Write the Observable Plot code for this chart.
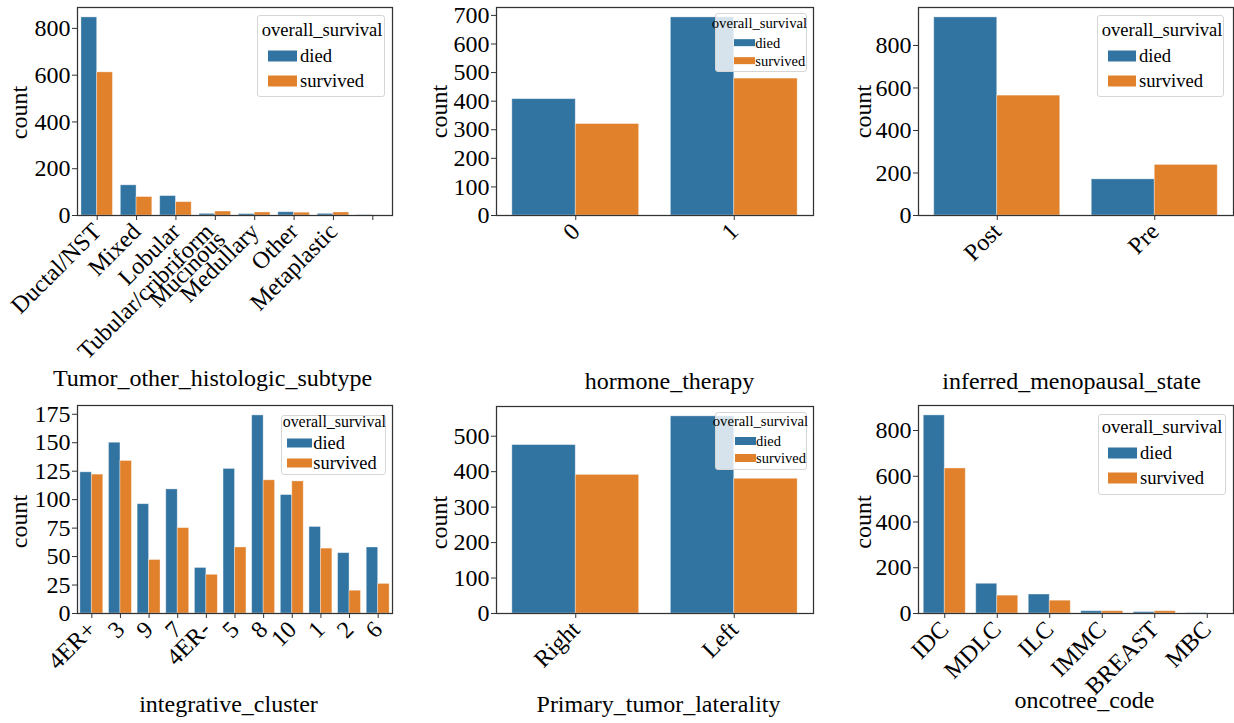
<!DOCTYPE html>
<html>
<head>
<meta charset="utf-8">
<script src="https://cdn.jsdelivr.net/npm/d3@7"></script>
<script src="https://cdn.jsdelivr.net/npm/@observablehq/plot@0.6"></script>
<style>
  html, body { margin: 0; padding: 0; background: #fff; }
  #fig { position: relative; width: 1234px; height: 723px; overflow: hidden;
         font-family: "Liberation Serif", "Times New Roman", serif; color: #000; }
  #fig svg { position: absolute; left: 0; top: 0; }
  .lg-box { position: absolute; box-sizing: border-box; background: rgba(255,255,255,0.8);
            border: 1px solid #d6d6d6; border-radius: 3px; }
  .lg-text { position: absolute; white-space: nowrap; line-height: 1; transform: translateY(-50%); }
  .lg-patch { position: absolute; transform: translateY(-50%); }
</style>
</head>
<body>
<div id="fig"></div>
<script>
// Survival groups (hue) shared by every panel
const statusKeys = ["died", "survived"];
const statusColors = ["#3274a1", "#e1812c"];

// Tumor_other_histologic_subtype
const subtypeCategories = ["Ductal/NST", "Mixed", "Lobular", "Tubular/cribriform", "Mucinous", "Medullary", "Other", "Metaplastic"];
const subtypeDied = [847, 129, 83, 7, 6, 14, 7, 1];
const subtypeSurvived = [612, 79, 57, 17, 13, 12, 13, 0];
const subtypeTicks = [0, 200, 400, 600, 800];

// hormone_therapy
const hormoneCategories = ["0", "1"];
const hormoneDied = [407, 693];
const hormoneSurvived = [320, 479];
const hormoneTicks = [0, 100, 200, 300, 400, 500, 600, 700];

// inferred_menopausal_state
const menopauseCategories = ["Post", "Pre"];
const menopauseDied = [932, 170];
const menopauseSurvived = [564, 238];
const menopauseTicks = [0, 200, 400, 600, 800];

// integrative_cluster
const clusterCategories = ["4ER+", "3", "9", "7", "4ER-", "5", "8", "10", "1", "2", "6"];
const clusterDied = [124, 150, 96, 109, 40, 127, 174, 104, 76, 53, 58];
const clusterSurvived = [122, 134, 47, 75, 34, 58, 117, 116, 57, 20, 26];
const clusterTicks = [0, 25, 50, 75, 100, 125, 150, 175];

// Primary_tumor_laterality
const lateralityCategories = ["Right", "Left"];
const lateralityDied = [475, 556];
const lateralitySurvived = [391, 380];
const lateralityTicks = [0, 100, 200, 300, 400, 500];

// oncotree_code
const oncotreeCategories = ["IDC", "MDLC", "ILC", "IMMC", "BREAST", "MBC"];
const oncotreeDied = [866, 130, 83, 10, 6, 1];
const oncotreeSurvived = [634, 78, 56, 10, 10, 0];
const oncotreeTicks = [0, 200, 400, 600, 800];

const W = 1234, H = 723;
const FONT = "'Liberation Serif', 'Times New Roman', serif";

// Panel layout: plot frame, tick-label placement, axis titles and legend (pixels)
const panels = [
  {categories: subtypeCategories, died: subtypeDied, survived: subtypeSurvived, yTicks: subtypeTicks,
   xTitle: "Tumor_other_histologic_subtype",
   labelSlots: [0, 1, 2, 2.85, 3.15, 4, 5, 6],
   labelDrops: [0, 0, 0, 0, 8, 0, 0, 0],
   frame: {left: 77, right: 392, top: 7, bottom: 215},
   xt: {cx: 212, base: 385}, yt: {cx: 19, cy: 112},
   legend: {box: [257.3, 15, 127.7, 81.7], title: {x: 261.7, cy: 30, size: 18.6},
            patch: {x: 268.3, w: 28.4, h: 11}, rows: [55.5, 80.5], textX: 300, textSize: 18.6}},
  {categories: hormoneCategories, died: hormoneDied, survived: hormoneSurvived, yTicks: hormoneTicks,
   xTitle: "hormone_therapy",
   frame: {left: 496, right: 813, top: 7, bottom: 215},
   xt: {cx: 669, base: 388}, yt: {cx: 438.5, cy: 111},
   legend: {box: [715, 13.3, 92.3, 58.4], title: {x: 711.7, cy: 22.7, size: 14.7},
            patch: {x: 734, w: 21, h: 7.7}, rows: [42.8, 60.8], textX: 755.3, textSize: 14.5}},
  {categories: menopauseCategories, died: menopauseDied, survived: menopauseSurvived, yTicks: menopauseTicks,
   xTitle: "inferred_menopausal_state",
   frame: {left: 918, right: 1233, top: 7, bottom: 215},
   xt: {cx: 1071, base: 388}, yt: {cx: 862.7, cy: 111},
   legend: {box: [1096.7, 15, 127.7, 81.7], title: {x: 1101.7, cy: 30, size: 18.6},
            patch: {x: 1107.5, w: 28.4, h: 11}, rows: [55.5, 80.5], textX: 1139, textSize: 18.6}},
  {categories: clusterCategories, died: clusterDied, survived: clusterSurvived, yTicks: clusterTicks,
   xTitle: "integrative_cluster",
   frame: {left: 77, right: 392, top: 405, bottom: 613},
   xt: {cx: 228, base: 711.5}, yt: {cx: 19, cy: 521},
   legend: {box: [281, 415, 105, 60], title: {x: 282.7, cy: 422.3, size: 15.9},
            patch: {x: 287.3, w: 24.4, h: 9}, rows: [442.8, 462.8], textX: 313.3, textSize: 18.4}},
  {categories: lateralityCategories, died: lateralityDied, survived: lateralitySurvived, yTicks: lateralityTicks,
   xTitle: "Primary_tumor_laterality",
   frame: {left: 496, right: 813, top: 406, bottom: 613},
   xt: {cx: 658, base: 711.5}, yt: {cx: 439, cy: 522},
   legend: {box: [715, 412.3, 92.3, 57.7], title: {x: 712.7, cy: 421, size: 14.7},
            patch: {x: 735, w: 21, h: 8}, rows: [440.5, 458.3], textX: 756, textSize: 14.5}},
  {categories: oncotreeCategories, died: oncotreeDied, survived: oncotreeSurvived, yTicks: oncotreeTicks,
   xTitle: "oncotree_code",
   frame: {left: 918, right: 1233, top: 405, bottom: 613},
   xt: {cx: 1084, base: 707}, yt: {cx: 863, cy: 521.5},
   legend: {box: [1098.3, 414, 127.7, 81], title: {x: 1101.7, cy: 426.7, size: 18.6},
            patch: {x: 1108.3, w: 28.4, h: 11}, rows: [452.8, 477.5], textX: 1140, textSize: 18.6}}
];

const fig = document.getElementById("fig");

function drawPanel(p) {
  const n = p.categories.length;
  const f = p.frame;
  // one row per (category, survival group); groups sit side by side, 0.4 wide each
  const rows = p.categories.flatMap((c, i) =>
    statusKeys.map((s, j) => ({i, j, status: s, count: (j === 0 ? p.died : p.survived)[i]})));
  const yMax = d3.max(rows, d => d.count) * 1.05;
  const slots = p.labelSlots || d3.range(n);
  const drops = p.labelDrops || p.categories.map(() => 0);
  const midX = (f.left + f.right) / 2, midY = (f.top + f.bottom) / 2;

  // rotated category labels, right end anchored below each tick
  const tickLabelMarks = p.categories.map((c, k) =>
    Plot.text([c], {
      x: () => slots[k], text: d => d, frameAnchor: "bottom", dy: 12 + drops[k],
      rotate: -45, textAnchor: "end", lineAnchor: "middle", fontSize: 24, fill: "#000"
    }));

  const svg = Plot.plot({
    width: W, height: H,
    marginLeft: f.left, marginRight: W - f.right, marginTop: f.top, marginBottom: H - f.bottom,
    style: `background: transparent; overflow: visible; font-family: ${FONT}; font-size: 24px; color: #000;`,
    x: {domain: [-0.5, n - 0.5]},
    y: {domain: [0, yMax]},
    color: {domain: statusKeys, range: statusColors},
    marks: [
      Plot.rect(rows, {
        x1: d => d.i - 0.4 + d.j * 0.4,
        x2: d => d.i + d.j * 0.4,
        y1: 0, y2: "count",
        fill: "status", stroke: "white", strokeOpacity: 0.45, strokeWidth: 0.8
      }),
      Plot.frame({stroke: "#333", strokeWidth: 1.25}),
      Plot.axisY({ticks: p.yTicks, tickSize: 5, tickPadding: 2, fontSize: 24, stroke: "#333", label: null}),
      Plot.axisX({ticks: d3.range(n), tickSize: 5, tickFormat: () => "", stroke: "#333", label: null}),
      ...tickLabelMarks,
      Plot.text([p.xTitle], {
        text: d => d, frameAnchor: "bottom", dx: p.xt.cx - midX, dy: p.xt.base - f.bottom,
        textAnchor: "middle", lineAnchor: "bottom", fontSize: 24, fill: "#000"
      }),
      Plot.text(["count"], {
        text: d => d, frameAnchor: "left", dx: p.yt.cx - f.left, dy: p.yt.cy - midY,
        rotate: -90, textAnchor: "middle", lineAnchor: "middle", fontSize: 24, fill: "#000"
      })
    ]
  });
  fig.appendChild(svg);
}

function drawLegend(lg) {
  const box = document.createElement("div");
  box.className = "lg-box";
  Object.assign(box.style, {left: lg.box[0] + "px", top: lg.box[1] + "px", width: lg.box[2] + "px", height: lg.box[3] + "px"});
  fig.appendChild(box);

  const title = document.createElement("div");
  title.className = "lg-text";
  title.textContent = "overall_survival";
  Object.assign(title.style, {left: lg.title.x + "px", top: lg.title.cy + "px", fontSize: lg.title.size + "px"});
  fig.appendChild(title);

  statusKeys.forEach((s, k) => {
    const patch = document.createElement("div");
    patch.className = "lg-patch";
    Object.assign(patch.style, {left: lg.patch.x + "px", top: lg.rows[k] + "px",
      width: lg.patch.w + "px", height: lg.patch.h + "px", background: statusColors[k]});
    fig.appendChild(patch);
    const label = document.createElement("div");
    label.className = "lg-text";
    label.textContent = s;
    Object.assign(label.style, {left: lg.textX + "px", top: lg.rows[k] + "px", fontSize: lg.textSize + "px"});
    fig.appendChild(label);
  });
}

panels.forEach(drawPanel);
panels.forEach(p => drawLegend(p.legend));
</script>
</body>
</html>
